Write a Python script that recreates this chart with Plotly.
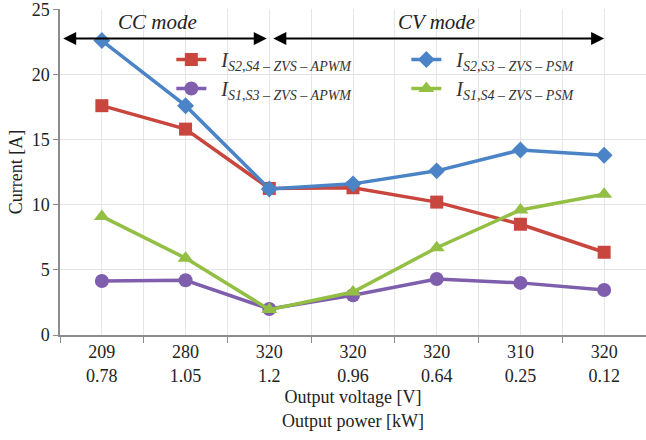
import plotly.graph_objects as go

# Operating points along the x axis: output voltage and output power
voltage_v = ["209", "280", "320", "320", "320", "310", "320"]
power_kw = ["0.78", "1.05", "1.2", "0.96", "0.64", "0.25", "0.12"]

# Switch currents [A]
i_s2s4_apwm = [17.6, 15.8, 11.25, 11.3, 10.2, 8.5, 6.35]
i_s2s3_psm = [22.6, 17.6, 11.2, 11.6, 12.6, 14.2, 13.8]
i_s1s3_apwm = [4.15, 4.2, 2.0, 3.05, 4.3, 4.0, 3.45]
i_s1s4_psm = [9.1, 5.9, 1.95, 3.3, 6.7, 9.6, 10.8]

y_ticks = [0, 5, 10, 15, 20, 25]

x_pos = list(range(len(voltage_v)))
tick_text = [f"{v}<br>{p}" for v, p in zip(voltage_v, power_kw)]

SERIF = "Liberation Serif, Times New Roman, serif"
RED = "#C9463F"
BLUE = "#4A84C6"
PURPLE = "#7E5EAD"
GREEN = "#93BF45"

series = [
    ("S2,S4 – ZVS – APWM", i_s2s4_apwm, RED, "square", 13),
    ("S2,S3 – ZVS – PSM", i_s2s3_psm, BLUE, "diamond", 13),
    ("S1,S3 – ZVS – APWM", i_s1s3_apwm, PURPLE, "circle", 14),
    ("S1,S4 – ZVS – PSM", i_s1s4_psm, GREEN, "triangle-up", 14),
]

fig = go.Figure()
for sub, vals, color, sym, size in series:
    fig.add_trace(go.Scatter(
        x=x_pos, y=vals, mode="lines+markers",
        name=f"&nbsp;&nbsp;<i>I</i><sub><i>{sub}</i></sub>",
        line=dict(color=color, width=3.5),
        marker=dict(symbol=sym, size=size, color=color),
    ))

# Mode arrows (CC / CV)
arrow_y = 22.75
for x0, x1 in [(-0.48, 1.97), (2.03, 6.0)]:
    fig.add_annotation(
        x=x1, y=arrow_y, ax=x0, ay=arrow_y, xref="x", yref="y",
        axref="x", ayref="y", text="", showarrow=True,
        arrowhead=2, arrowside="end+start", arrowsize=1.3,
        arrowwidth=2, arrowcolor="black",
    )
for label, xc in [("CC mode", 0.66), ("CV mode", 4.0)]:
    fig.add_annotation(
        x=xc, y=24.05, xref="x", yref="y", text=f"<i>{label}</i>",
        showarrow=False, font=dict(family=SERIF, size=21, color="#222"),
    )

fig.update_layout(
    width=646, height=440,
    margin=dict(l=60, r=0, t=7, b=105),
    paper_bgcolor="white", plot_bgcolor="white",
    font=dict(family=SERIF, size=18, color="#222"),
    showlegend=True,
    legend=dict(
        orientation="h", x=0.19, y=0.905, xanchor="left", yanchor="top",
        entrywidth=190, bgcolor="rgba(0,0,0,0)",
        font=dict(family=SERIF, size=20, color="#333"),
    ),
    xaxis=dict(
        range=[-0.5, 6.5], tickvals=x_pos, ticktext=tick_text,
        ticks="", showgrid=True, gridcolor="#E6E6E6", gridwidth=1,
        showline=True, linecolor="#8C8C8C", linewidth=1.5,
        zeroline=False, tickfont=dict(size=18),
        minor=dict(
            tickvals=[i - 0.5 for i in range(len(x_pos) + 1)],
            ticks="outside", ticklen=6, tickcolor="#8C8C8C",
            showgrid=True, gridcolor="#E6E6E6",
        ),
        title=dict(text="Output voltage [V]<br>Output power [kW]",
                   font=dict(size=18), standoff=6),
    ),
    yaxis=dict(
        range=[0, 25.02], tickvals=y_ticks, ticks="outside", ticklen=5,
        tickcolor="#8C8C8C", showgrid=True, gridcolor="#E3E3E3",
        showline=True, linecolor="#8C8C8C", linewidth=1.5,
        zeroline=False, tickfont=dict(size=18), ticklabeloverflow="allow",
        title=dict(text="Current [A]", font=dict(size=18), standoff=4),
    ),
)

fig.write_html("out.html")
